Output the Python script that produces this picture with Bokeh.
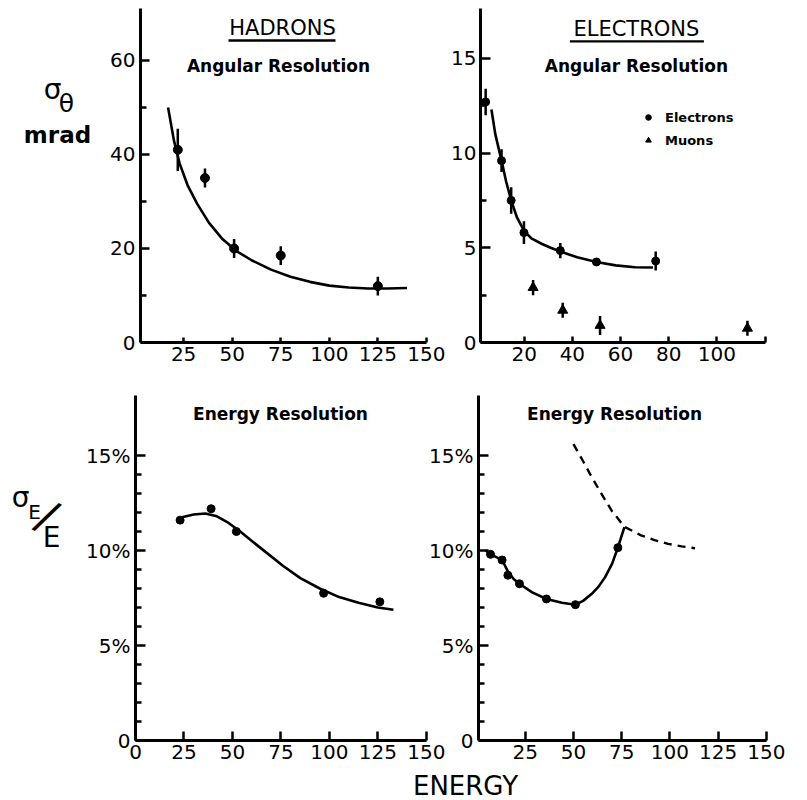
import numpy as np
from bokeh.plotting import figure
from bokeh.layouts import column, row
from bokeh.models import Range1d, FixedTicker, Label, BoxAnnotation, Legend, LegendItem
from bokeh.embed import file_html
from bokeh.resources import INLINE

FONT = "DejaVu Sans"

# ---------------- data ----------------
# Hadrons, angular resolution (mrad)
had_ang_E = [22, 36, 51, 75, 125]
had_ang_sig = [41, 35, 20, 18.5, 12]
had_ang_err = [4.5, 2, 2, 2, 2]
had_ang_fit_E = [17, 20, 23, 27, 32, 38, 45, 52, 60, 70, 80, 90, 100, 110, 120, 130, 140]
had_ang_fit_sig = [50, 43, 38, 33.5, 29.5, 25.5, 22, 19.5, 17.5, 15.5, 14, 12.9, 12.1, 11.7, 11.5, 11.5, 11.6]

# Electrons / muons, angular resolution (mrad)
ele_ang_E = [4, 10.6, 14.6, 19.9, 35, 50, 74.6]
ele_ang_sig = [12.7, 9.6, 7.5, 5.8, 4.85, 4.25, 4.3]
ele_ang_err = [0.7, 0.6, 0.7, 0.6, 0.4, 0.2, 0.5]
muon_E = [23.7, 36, 51.5, 112.7]
muon_sig = [2.9, 1.7, 0.9, 0.75]
muon_err = [0.4, 0.4, 0.5, 0.4]
ele_ang_fit_E = [6.4, 8, 10.6, 12.5, 14.6, 17, 19.9, 23, 27.4, 31, 35, 42, 50, 58, 66, 73.5]
ele_ang_fit_sig = [12.3, 11.0, 9.6, 8.5, 7.5, 6.6, 5.9, 5.5, 5.2, 5.0, 4.8, 4.5, 4.25, 4.07, 3.97, 3.96]

# Hadrons, energy resolution (%)
had_en_E = [23, 39, 52, 97, 126]
had_en_res = [11.6, 12.2, 11.0, 7.75, 7.3]
had_en_fit_E = [24, 30, 36, 42, 48, 54, 60, 68, 76, 85, 95, 105, 115, 125, 133]
had_en_fit_res = [11.75, 11.9, 11.95, 11.8, 11.45, 11.0, 10.5, 9.85, 9.2, 8.55, 8.0, 7.55, 7.25, 7.0, 6.88]

# Electrons, energy resolution (%)
ele_en_E = [7, 13, 16, 22, 36, 51, 73]
ele_en_res = [9.8, 9.5, 8.7, 8.25, 7.45, 7.15, 10.15]
ele_en_fit_E = [4.5, 7, 10, 13, 16, 19, 22, 28.6, 36, 44, 51, 55, 59.5, 63, 66.4, 70, 73, 76.4]
ele_en_fit_res = [10.0, 9.8, 9.65, 9.5, 8.9, 8.5, 8.25, 7.8, 7.45, 7.25, 7.15, 7.35, 7.72, 8.1, 8.6, 9.3, 10.15, 11.23]
ele_en_dash_E = [50, 55, 59.5, 65, 69.8, 76.4, 85, 92, 99, 106, 113]
ele_en_dash_res = [15.6, 14.7, 13.86, 12.9, 12.1, 11.25, 10.8, 10.55, 10.35, 10.22, 10.12]

# tick labels
ang_had_yticks = [0, 20, 40, 60]
ang_ele_yticks = [0, 5, 10, 15]
en_yticks = [0, 5, 10, 15]
en_ylabels = ["0", "5%", "10%", "15%"]
had_ang_xticks = [25, 50, 75, 100, 125, 150]
ele_ang_xticks = [20, 40, 60, 80, 100, 120]
en_xticks_left = [0, 25, 50, 75, 100, 125, 150]
en_xticks_right = [25, 50, 75, 100, 125, 150]

TICK_FONT = "20px"


def make_fig(width, height, fl, fr, ft, fb, xr, yr):
    # fl, fr, ft, fb: frame edges in figure-local pixels
    p = figure(width=width, height=height,
               x_range=Range1d(*xr), y_range=Range1d(*yr),
               min_border_left=fl, min_border_right=width - fr,
               min_border_top=ft, min_border_bottom=height - fb,
               output_backend="svg", toolbar_location=None, tools="")
    p.outline_line_color = None
    p.grid.visible = False
    p.background_fill_alpha = 0
    p.border_fill_alpha = 0
    for ax in (p.xaxis[0], p.yaxis[0]):
        ax.axis_line_width = 3
        ax.axis_line_color = "black"
        ax.major_tick_out = 0
        ax.minor_tick_out = 0
        ax.major_tick_line_width = 2.5
        ax.minor_tick_line_width = 2.5
        ax.major_tick_line_color = "black"
        ax.minor_tick_line_color = "black"
        ax.major_label_text_font = FONT
        ax.major_label_text_font_size = TICK_FONT
        ax.major_label_text_color = "black"
    p.yaxis.major_label_standoff = 5
    p.xaxis.major_label_standoff = 4
    return p


def strip(width, height, oy):
    # blank figure whose data coordinates equal page pixels
    s = figure(width=width, height=height, x_range=Range1d(0, width),
               y_range=Range1d(oy + height, oy),
               x_axis_location=None, y_axis_location=None, min_border=0,
               output_backend="svg", toolbar_location=None, tools="")
    s.outline_line_color = None
    s.grid.visible = False
    s.background_fill_alpha = 0
    s.border_fill_alpha = 0
    return s


def mapper(ox, oy, fl, fr, ft, fb, xr, yr):
    # page pixel -> data, with figure origin (ox, oy)
    def fx(px):
        return xr[0] + (px - ox - fl) * (xr[1] - xr[0]) / (fr - fl)

    def fy(py):
        return yr[0] + (oy + fb - py) * (yr[1] - yr[0]) / (fb - ft)
    return fx, fy


def ident(v):
    return v


def text(p, fx, fy, px, py, s, size, style="normal", align="center", angle=0):
    p.add_layout(Label(x=fx(px), y=fy(py), text=s, text_font=FONT, text_font_size=size,
                       text_font_style=style, text_align=align, text_baseline="middle",
                       text_color="black", angle=angle))


def underline(p, fx, fy, x0, x1, py):
    p.add_layout(BoxAnnotation(left=fx(x0), right=fx(x1), bottom=fy(py + 1.2), top=fy(py - 1.2),
                               fill_color="black", fill_alpha=1, line_color=None, line_alpha=0))


def errbars(p, E, v, err, w=2.5):
    E = np.array(E, float)
    v = np.array(v, float)
    e = np.array(err, float)
    p.segment(x0=E, y0=v - e, x1=E, y1=v + e, line_color="black", line_width=w)


# ---------------- top-left strip: y label ----------------
s1 = strip(100, 376, 0)
text(s1, ident, ident, 52, 91, "σ", "28px")
text(s1, ident, ident, 66, 107, "θ", "25px")
text(s1, ident, ident, 57, 142, "mrad", "23px", "bold")

# ---------------- top-left: hadrons angular ----------------
TL = dict(fl=40, fr=326, ft=8, fb=342, xr=(2.8, 150.05), yr=(0, 71.06))
p1 = make_fig(348, 376, **TL)
fx, fy = mapper(100, 0, **TL)
p1.yaxis.ticker = FixedTicker(ticks=ang_had_yticks, minor_ticks=[10, 30, 50])
p1.yaxis.major_tick_in = 9
p1.yaxis.minor_tick_in = 6
p1.xaxis.ticker = FixedTicker(ticks=had_ang_xticks, minor_ticks=[])
p1.xaxis.major_tick_in = 5
p1.line(had_ang_fit_E, had_ang_fit_sig, line_color="black", line_width=2.6)
errbars(p1, had_ang_E, had_ang_sig, had_ang_err)
p1.scatter(had_ang_E, had_ang_sig, marker="circle", size=9, color="black")
text(p1, fx, fy, 282, 27.5, "HADRONS", "21px")
underline(p1, fx, fy, 228, 335, 40)
text(p1, fx, fy, 278, 65, "Angular Resolution", "17px", "bold")

# ---------------- top-right: electrons angular ----------------
TR = dict(fl=30, fr=317, ft=7, fb=342, xr=(1.86, 120.2), yr=(0, 17.63))
p2 = make_fig(359, 376, **TR)
gx, gy = mapper(448, 0, **TR)
p2.yaxis.ticker = FixedTicker(ticks=ang_ele_yticks, minor_ticks=[2.5, 7.5, 12.5])
p2.yaxis.major_tick_in = 10
p2.yaxis.minor_tick_in = 6
p2.yaxis.major_label_standoff = 4
p2.xaxis.ticker = FixedTicker(ticks=ele_ang_xticks, minor_ticks=[])
p2.xaxis.major_label_overrides = {120: ""}
p2.xaxis.major_tick_in = 6
p2.line(ele_ang_fit_E, ele_ang_fit_sig, line_color="black", line_width=2.6)
errbars(p2, ele_ang_E, ele_ang_sig, ele_ang_err)
errbars(p2, muon_E, muon_sig, muon_err)
r_e = p2.scatter(ele_ang_E, ele_ang_sig, marker="circle", size=8, color="black")
r_m = p2.scatter(muon_E, muon_sig, marker="triangle", size=10, color="black")
text(p2, gx, gy, 635, 27.5, "ELECTRONS", "21px")
underline(p2, gx, gy, 568, 703, 40)
text(p2, gx, gy, 635, 65, "Angular Resolution", "17px", "bold")
leg = Legend(items=[LegendItem(label="Electrons", renderers=[r_e]),
                    LegendItem(label="Muons", renderers=[r_m])],
             location=(161, 194), padding=0, margin=0, spacing=7,
             glyph_width=14, glyph_height=16, label_height=16, label_standoff=10,
             label_text_font=FONT, label_text_font_size="13px", label_text_font_style="bold",
             label_text_color="black", border_line_color=None, background_fill_alpha=0)
p2.add_layout(leg)

# ---------------- bottom-left strip: y label ----------------
s2 = strip(80, 396, 376)
text(s2, ident, ident, 20, 493, "σ", "28px")
text(s2, ident, ident, 34, 510, "E", "20px")
text(s2, ident, ident, 47, 514, "/", "44px", angle=-0.5)
text(s2, ident, ident, 51, 539, "E", "28px")

# ---------------- bottom-left: hadrons energy ----------------
BL = dict(fl=55, fr=346, ft=19, fb=364, xr=(0, 150.05), yr=(0, 18.16))
p3 = make_fig(368, 396, **BL)
hx, hy = mapper(80, 376, **BL)
p3.yaxis.ticker = FixedTicker(ticks=en_yticks, minor_ticks=[1, 2, 3, 4, 6, 7, 8, 9, 11, 12, 13, 14])
p3.yaxis.major_label_overrides = dict(zip(en_yticks, en_ylabels))
p3.yaxis.major_tick_in = 10
p3.yaxis.minor_tick_in = 6
p3.xaxis.ticker = FixedTicker(ticks=en_xticks_left, minor_ticks=[])
p3.xaxis.major_tick_in = 9
p3.line(had_en_fit_E, had_en_fit_res, line_color="black", line_width=2.6)
p3.scatter(had_en_E, had_en_res, marker="circle", size=8, color="black")
text(p3, hx, hy, 280, 413, "Energy Resolution", "17px", "bold")

# ---------------- bottom-right: electrons energy ----------------
BR = dict(fl=50, fr=340, ft=19, fb=364, xr=(0.77, 150.05), yr=(0, 18.16))
p4 = make_fig(381, 396, **BR)
p4.margin = (0, 0, 0, -22)
kx, ky = mapper(426, 376, **BR)
p4.yaxis.ticker = FixedTicker(ticks=en_yticks, minor_ticks=[1, 2, 3, 4, 6, 7, 8, 9, 11, 12, 13, 14])
p4.yaxis.major_label_overrides = dict(zip(en_yticks, en_ylabels))
p4.yaxis.major_tick_in = 10
p4.yaxis.minor_tick_in = 6
p4.xaxis.ticker = FixedTicker(ticks=en_xticks_right, minor_ticks=[])
p4.xaxis.major_tick_in = 9
p4.line(ele_en_fit_E, ele_en_fit_res, line_color="black", line_width=2.6)
p4.line(ele_en_dash_E, ele_en_dash_res, line_color="black", line_width=2.4, line_dash="8 6")
p4.scatter(ele_en_E, ele_en_res, marker="circle", size=8, color="black")
text(p4, kx, ky, 613, 413, "Energy Resolution", "17px", "bold")

# ---------------- bottom caption ----------------
p5 = strip(807, 28, 772)
text(p5, ident, ident, 465, 785, "ENERGY", "26px")

layout = column(row(s1, p1, p2), row(s2, p3, p4), p5)
open("out.html", "w").write(file_html(layout, INLINE))
